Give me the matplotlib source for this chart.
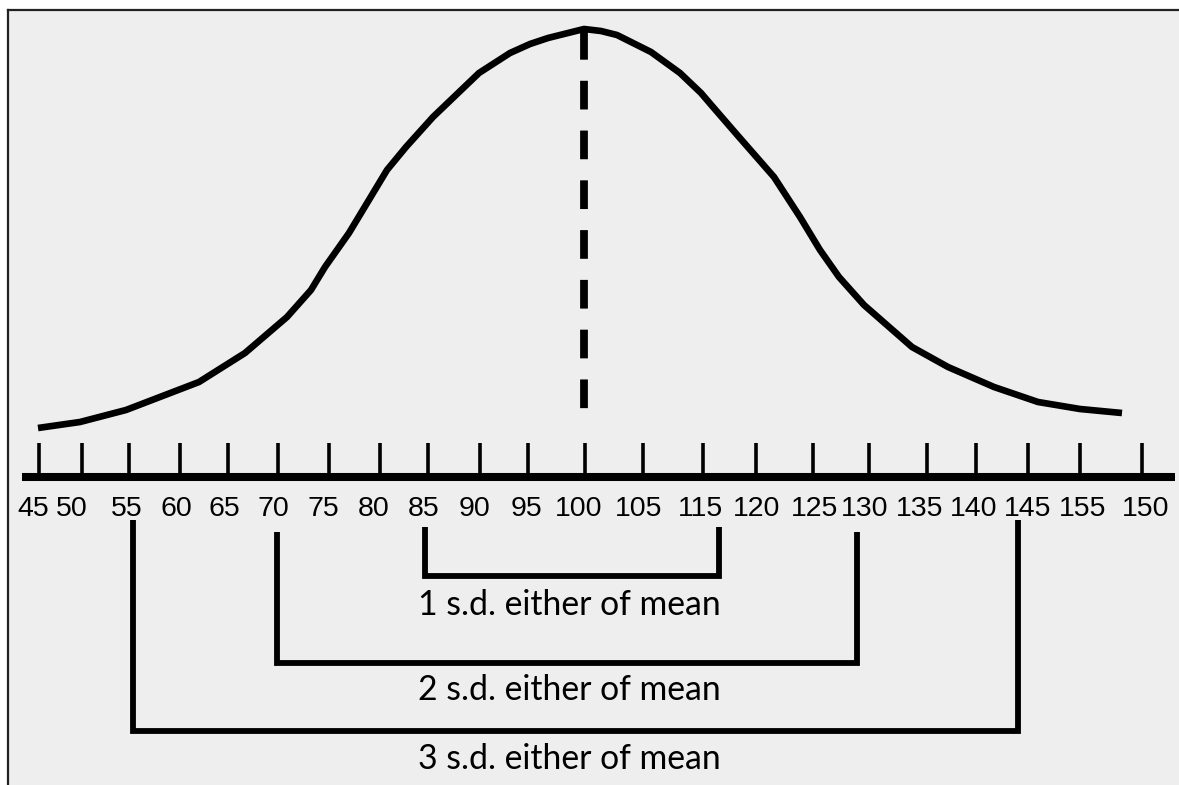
import matplotlib
matplotlib.use("Agg")
import matplotlib.pyplot as plt

# ---- data (x: position along the scale, y: height above the axis) ----
tick_pos = [39, 82, 129, 180, 228, 278, 329, 380, 428, 480, 528, 585,
            643, 703, 756, 813, 869, 927, 976, 1028, 1080, 1142]
label_pos = [33, 72, 127, 176, 224, 273, 323, 374, 424, 474, 526, 579,
             639, 701, 757, 815, 865, 920, 974, 1028, 1083, 1146]
tick_labels = ["45", "50", "55", "60", "65", "70", "75", "80", "85", "90", "95", "100",
               "105", "115", "120", "125", "130", "135", "140", "145", "155", "150"]

curve_x = [38, 80, 126, 199, 245, 287, 311, 325, 349, 387, 406, 433, 479, 510, 530, 548,
           564, 584, 601, 617, 651, 680, 701, 713, 739, 774, 800, 820, 839, 864, 912,
           948, 994, 1038, 1080, 1122]
curve_y = [49, 55, 67, 95, 124, 160, 187, 210, 244, 307, 330, 360, 404, 424, 433, 439,
           443, 448, 446, 442, 425, 404, 384, 370, 340, 300, 260, 227, 200, 172, 130,
           110, 90, 75, 68, 64]

mean_x = 584
mean_top = 446
mean_bottom = 57

bracket_labels = ["1 s.d. either of mean", "2 s.d. either of mean", "3 s.d. either of mean"]
bracket_left = [425, 277, 133]
bracket_right = [719, 857, 1018]
bracket_top = [-50, -55, -43]
bracket_bottom = [-99, -186, -254]
bracket_text_y = [-128, -213, -282]
text_center_x = 569

axis_start, axis_end = 22, 1175

# ---- figure ----
W, H = 1179, 785
fig = plt.figure(figsize=(W / 100, H / 100), dpi=100, facecolor="white")
ax = fig.add_axes([8 / W, 0, 1 - 8 / W, (H - 10) / H])
ax.set_facecolor("#eeeeee")
ax.set_xlim(8, 1179)
ax.set_ylim(-308, 467)
ax.set_xticks([])
ax.set_yticks([])
for side in ["right", "bottom"]:
    ax.spines[side].set_visible(False)
for side in ["left", "top"]:
    ax.spines[side].set_linewidth(1.6)
    ax.spines[side].set_color("#222222")

# normal curve
ax.plot(curve_x, curve_y, color="black", lw=4.8, solid_joinstyle="round",
        solid_capstyle="butt", zorder=3)

# dashed mean line
ax.plot([mean_x, mean_x], [mean_top, mean_bottom], color="black", lw=5.6,
        dashes=(3.69, 2.71), dash_capstyle="butt", zorder=3)

# axis line and ticks
ax.plot([axis_start, axis_end], [0, 0], color="black", lw=5.8, solid_capstyle="butt", zorder=3)
ax.vlines(tick_pos, 3, 34, color="black", lw=2.6, zorder=3)
for p, lab in zip(label_pos, tick_labels):
    ax.text(p, -32, lab, ha="center", va="center", fontsize=20.5,
            family="Liberation Sans", color="black")

# brackets
for lab, xl, xr, yt, yb, ty in zip(bracket_labels, bracket_left, bracket_right,
                                   bracket_top, bracket_bottom, bracket_text_y):
    ax.plot([xl, xl, xr, xr], [yt, yb, yb, yt], color="black", lw=4.2,
            solid_joinstyle="miter", solid_capstyle="butt", zorder=3)
    ax.text(text_center_x, ty, lab, ha="center", va="center", fontsize=24.3,
            family="Lato", color="black")

fig.savefig("out.png", dpi=100, facecolor="white")
